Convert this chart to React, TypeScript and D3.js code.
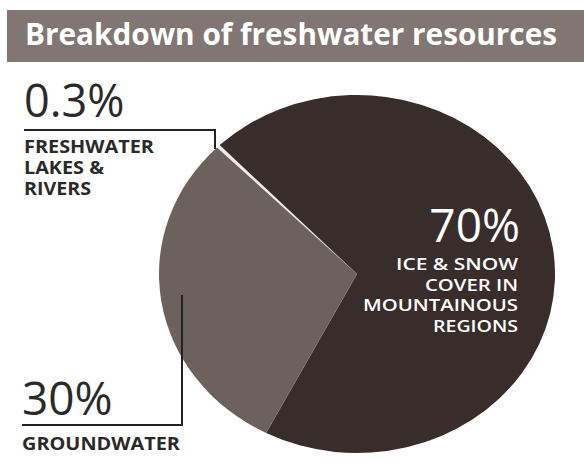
import React from "react";
import * as d3 from "d3";

const W = 584;
const H = 465;

// Slices (clockwise order from the upper-left boundary)
const sliceNames = ["Freshwater lakes & rivers", "Ice & snow", "Groundwater"];
const sliceValues = [0.3, 70, 30];
const sliceColors = ["#eeeae6", "#382d2b", "#6d615e"];

const titleText = "Breakdown of freshwater resources";
const lakesPct = "0.3%";
const lakesLines = ["FRESHWATER", "LAKES &", "RIVERS"];
const lakesWidths = [130, 80, 67];
const groundPct = "30%";
const groundLines = ["GROUNDWATER"];
const icePct = "70%";
const iceLines = ["ICE & SNOW", "COVER IN", "MOUNTAINOUS", "REGIONS"];
const iceWidths = [122, 93, 155, 85];

export default function App() {
  const cx = 357;
  const cy = 274;
  const ry = 179;
  const rx = 198;

  const startDeg = -45;
  const pie = d3
    .pie<number>()
    .sort(null)
    .value((d) => d)
    .startAngle((startDeg * Math.PI) / 180)
    .endAngle((startDeg * Math.PI) / 180 + 2 * Math.PI);
  const arcs = pie(sliceValues);
  const arc = d3.arc<d3.PieArcDatum<number>>().innerRadius(0).outerRadius(ry);

  const font = "'Open Sans', 'Noto Sans', sans-serif";

  return (
    <div style={{ position: "absolute", left: 0, top: 0 }}>
      <svg width={W} height={H} style={{ display: "block", background: "#fff" }}>
        {/* Title bar */}
        <rect x={7} y={10} width={W - 7} height={52} fill="#817674" />
        <text
          x={25}
          y={45}
          fill="#fff"
          fontFamily={font}
          fontWeight={700}
          fontSize={30}
          textLength={532}
          lengthAdjust="spacingAndGlyphs"
        >
          {titleText}
        </text>

        {/* Pie (slightly elliptical) */}
        <g transform={`translate(${cx},${cy}) scale(${rx / ry},1)`}>
          {arcs.map((a, i) => (
            <path key={sliceNames[i]} d={arc(a) || ""} fill={sliceColors[i]} />
          ))}
        </g>

        {/* Lakes label */}
        <text x={24} y={117} fill="#2a2a2a" fontFamily={font} fontWeight={400} fontSize={45}>
          {lakesPct}
        </text>
        <polyline
          points="24,130 215,130 215,149"
          fill="none"
          stroke="#222"
          strokeWidth={2}
        />
        {lakesLines.map((t, i) => (
          <text
            key={t}
            x={24}
            y={153 + i * 21}
            fill="#2a2a2a"
            fontFamily={font}
            fontWeight={700}
            fontSize={17}
            textLength={lakesWidths[i]}
            lengthAdjust="spacingAndGlyphs"
          >
            {t}
          </text>
        ))}

        {/* Groundwater label */}
        <text x={22} y={415} fill="#2a2a2a" fontFamily={font} fontWeight={400} fontSize={46}>
          {groundPct}
        </text>
        <polyline
          points="22,425 182,425 182,295"
          fill="none"
          stroke="#222"
          strokeWidth={2}
        />
        {groundLines.map((t, i) => (
          <text
            key={t}
            x={22}
            y={450 + i * 21}
            fill="#2a2a2a"
            fontFamily={font}
            fontWeight={700}
            fontSize={18}
            textLength={158}
            lengthAdjust="spacingAndGlyphs"
          >
            {t}
          </text>
        ))}

        {/* Ice label */}
        <text
          x={520}
          y={242}
          fill="#fff"
          textAnchor="end"
          fontFamily={font}
          fontWeight={400}
          fontSize={46}
        >
          {icePct}
        </text>
        {iceLines.map((t, i) => (
          <text
            key={t}
            x={518}
            y={270 + i * 20.5}
            fill="#fff"
            textAnchor="end"
            fontFamily={font}
            fontWeight={600}
            fontSize={16}
            textLength={iceWidths[i]}
            lengthAdjust="spacingAndGlyphs"
          >
            {t}
          </text>
        ))}
      </svg>
    </div>
  );
}
